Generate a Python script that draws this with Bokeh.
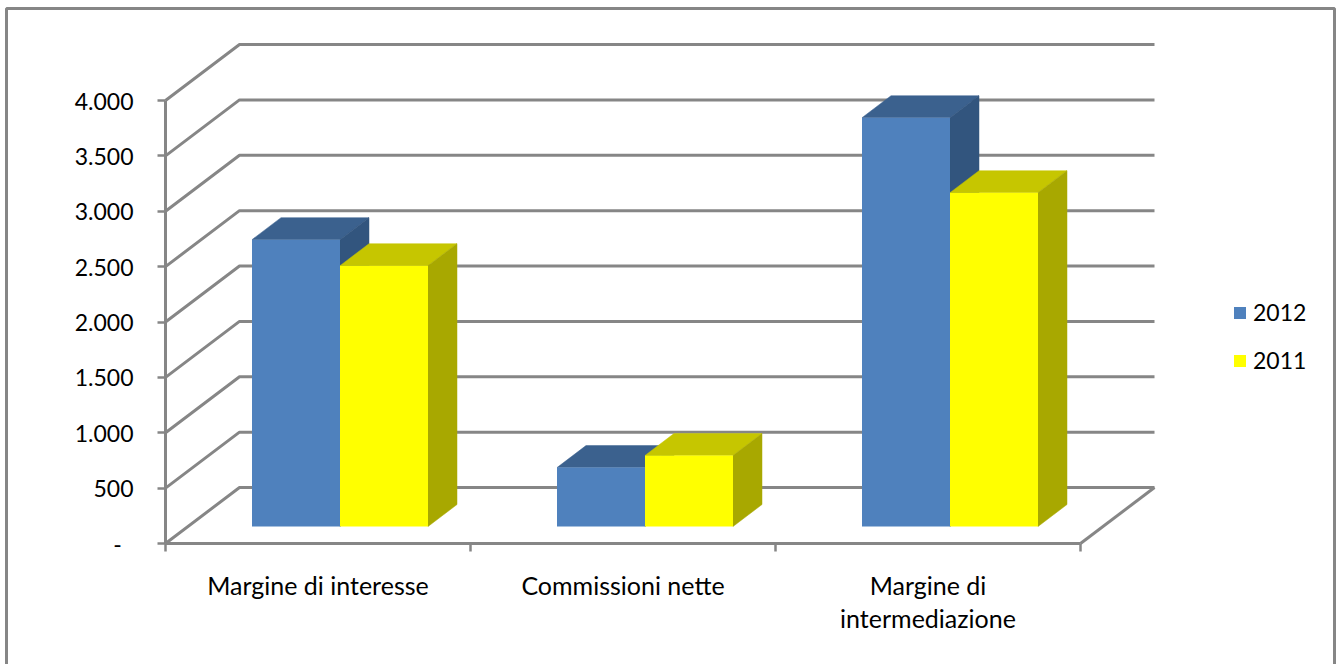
from bokeh.embed import file_html
from bokeh.models import (BoxAnnotation, ColumnDataSource, FixedTicker, Legend,
                          LegendItem, LinearAxis, Range1d)
from bokeh.plotting import figure
from bokeh.resources import INLINE

# Chart values
categories = ["Margine di interesse", "Commissioni nette", "Margine di\nintermediazione"]
series_2012 = [2590, 532, 3691]
series_2011 = [2355, 641, 3014]
series_names = ["2012", "2011"]
y_ticks = [0, 500, 1000, 1500, 2000, 2500, 3000, 3500, 4000]
y_tick_labels = ["-\u00a0\u00a0", "500", "1.000", "1.500", "2.000", "2.500", "3.000", "3.500", "4.000"]

# Page layout, in pixels
WIDTH, HEIGHT = 1338, 664
PLOT_LEFT, PLOT_BASE = 165, 543
PX_PER_CATEGORY = 305
PX_PER_VALUE = 443 / 4000

def xu(px):
    return px / PX_PER_CATEGORY

def yu(px):
    return px / PX_PER_VALUE

# Oblique projection of the 3D box: wall depth, bar depth, bar plane offset
WALL_DX, WALL_DY = xu(74), yu(56)
BAR_DX, BAR_DY = xu(29), yu(22)
PLANE_DX, PLANE_DY = xu(22), yu(17)
BAR_W = xu(88)

GREY = "#868686"
FONT = "Lato"
NUMBER_SIZE = "23px"
CATEGORY_SIZE = "25px"

# The frame fills the page; data origin sits at the front-left corner of the floor
p = figure(
    width=WIDTH, height=HEIGHT, output_backend="svg", toolbar_location=None,
    x_range=Range1d(xu(-PLOT_LEFT), xu(WIDTH - PLOT_LEFT)),
    y_range=Range1d(yu(PLOT_BASE - HEIGHT), yu(PLOT_BASE)),
    x_axis_type=None, y_axis_type=None,
    min_border_left=0, min_border_right=0, min_border_top=0, min_border_bottom=0,
    background_fill_color="white", border_fill_color="white",
    outline_line_color=None,
)
p.grid.visible = False

# Chart-area outline; its lower edge runs off the page
p.add_layout(BoxAnnotation(
    left=6, right=1334, top=HEIGHT - 8, bottom=-30,
    left_units="screen", right_units="screen", top_units="screen", bottom_units="screen",
    fill_color=None, fill_alpha=0, line_color=GREY, line_alpha=1, line_width=3,
))

# Side-wall and back-wall gridlines
n_cat = len(categories)
grid_xs = [[0, WALL_DX, n_cat + WALL_DX] for _ in y_ticks]
grid_ys = [[v, v + WALL_DY, v + WALL_DY] for v in y_ticks]
p.multi_line(grid_xs, grid_ys, line_color=GREY, line_width=3)

# Right edge of the floor
p.line([n_cat, n_cat + WALL_DX], [0, WALL_DY], line_color=GREY, line_width=3)

# 3D bars: top and side faces first, then the front face
styles = [
    (series_2012, -1, "#4F81BD", "#3B618E", "#32557E"),
    (series_2011, 0, "#FFFF00", "#C6C600", "#A8A800"),
]
legend_items = []
for name, (values, slot, front, top, side) in zip(series_names, styles):
    lefts = [i + 0.5 + PLANE_DX + slot * BAR_W for i in range(n_cat)]
    rights = [x + BAR_W for x in lefts]
    heights = [v + PLANE_DY for v in values]
    p.patches(
        [[l, l + BAR_DX, r + BAR_DX, r] for l, r in zip(lefts, rights)],
        [[h, h + BAR_DY, h + BAR_DY, h] for h in heights],
        fill_color=top, line_color=top, line_width=0.5,
    )
    p.patches(
        [[r, r + BAR_DX, r + BAR_DX, r] for r in rights],
        [[PLANE_DY, PLANE_DY + BAR_DY, h + BAR_DY, h] for h in heights],
        fill_color=side, line_color=side, line_width=0.5,
    )
    source = ColumnDataSource(dict(left=lefts, right=rights, top=heights, bottom=[PLANE_DY] * n_cat))
    bar = p.quad(left="left", right="right", top="top", bottom="bottom", source=source,
                 fill_color=front, line_color=None)
    legend_items.append(LegendItem(label=name, renderers=[bar]))

# Value axis along the front of the side wall
y_axis = LinearAxis(
    ticker=FixedTicker(ticks=y_ticks), bounds=(0, 4000), fixed_location=0,
    major_label_overrides=dict(zip(y_ticks, y_tick_labels)),
    axis_line_color=GREY, axis_line_width=3,
    major_tick_line_color=GREY, major_tick_line_width=2.5, major_tick_in=0, major_tick_out=8,
    minor_tick_line_color=None,
    major_label_text_font=FONT, major_label_text_font_size=NUMBER_SIZE,
    major_label_text_color="black", major_label_standoff=24,
)
p.add_layout(y_axis, "left")

# Category axis: dividers between groups as minor ticks, names centred on each group
cat_positions = [i + 0.5 for i in range(n_cat)]
x_axis = LinearAxis(
    ticker=FixedTicker(ticks=cat_positions, minor_ticks=list(range(n_cat + 1))),
    bounds=(0, n_cat), fixed_location=0,
    major_label_overrides=dict(zip(cat_positions, categories)),
    axis_line_color=GREY, axis_line_width=3,
    major_tick_line_color=None, major_tick_in=0, major_tick_out=0,
    minor_tick_line_color=GREY, minor_tick_line_width=2.5, minor_tick_in=0, minor_tick_out=8,
    major_label_text_font=FONT, major_label_text_font_size=CATEGORY_SIZE,
    major_label_text_color="black", major_label_standoff=18,
    major_label_text_line_height=1.13,
)
p.add_layout(x_axis, "below")

legend = Legend(
    items=legend_items, location=(1232, HEIGHT - 374),
    orientation="vertical", border_line_color=None, background_fill_alpha=0,
    padding=0, margin=0, spacing=20, glyph_width=15, glyph_height=15, label_standoff=6,
    label_text_font=FONT, label_text_font_size=NUMBER_SIZE, label_text_color="black",
    label_height=28,
)
p.add_layout(legend, "center")

open("out.html", "w").write(file_html(p, INLINE))
